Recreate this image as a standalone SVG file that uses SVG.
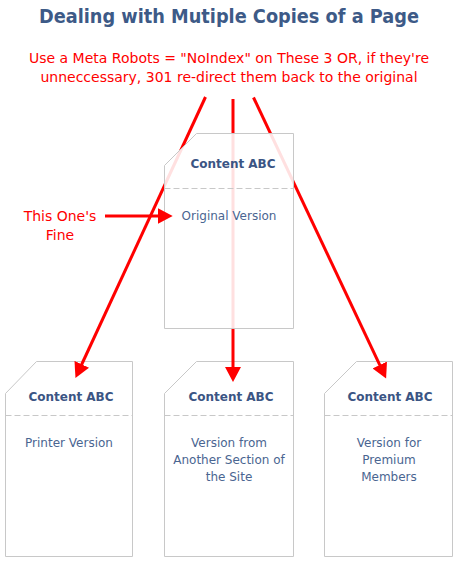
<svg xmlns="http://www.w3.org/2000/svg" width="460" height="583" viewBox="0 0 460 583">
<style>
text{font-family:"DejaVu Sans",Verdana,sans-serif;text-anchor:middle}
.title{font-size:19px;font-weight:bold;fill:#3d5a87}
.red{font-size:14px;fill:#ff0000}
.head{font-size:12px;font-weight:bold;fill:#3b5584}
.body{font-size:12px;fill:#4a6591}
.doc{fill:#ffffff;stroke:#c8c8c8;stroke-width:1}
.dash{stroke:#c8c8c8;stroke-width:1;stroke-dasharray:6,3;fill:none}
.ln{stroke:#ff0000;stroke-width:3;fill:none}
</style>
<defs>
<marker id="ah" markerUnits="userSpaceOnUse" markerWidth="16" markerHeight="16" refX="3" refY="8" orient="auto">
<path d="M0,0 L15,8 L0,16 z" fill="#ff0000"/>
</marker>
</defs>
<rect width="460" height="583" fill="#ffffff"/>
<text class="title" x="229" y="23" textLength="380" lengthAdjust="spacingAndGlyphs">Dealing with Mutiple Copies of a Page</text>
<text class="red" x="229" y="63">Use a Meta Robots = "NoIndex" on These 3 OR, if they're</text>
<text class="red" x="229" y="82">unneccessary, 301 re-direct them back to the original</text>

<g id="doc-printer">
<path class="doc" d="M36.5,361.5 H132.5 V556.5 H5.5 V393.5 Z"/>
<line class="dash" x1="5.5" y1="415.5" x2="132.5" y2="415.5"/>
<text class="head" x="71" y="401">Content ABC</text>
<text class="body" x="69" y="447">Printer Version</text>
</g>
<g id="doc-section">
<path class="doc" d="M196.5,361.5 H293.5 V556.5 H164.5 V393.5 Z"/>
<line class="dash" x1="164.5" y1="415.5" x2="293.5" y2="415.5"/>
<text class="head" x="231" y="401">Content ABC</text>
<text class="body" x="229" y="447">Version from</text>
<text class="body" x="229" y="464">Another Section of</text>
<text class="body" x="229" y="481">the Site</text>
</g>
<g id="doc-premium">
<path class="doc" d="M356.5,361.5 H452.5 V556.5 H324.5 V393.5 Z"/>
<line class="dash" x1="324.5" y1="415.5" x2="452.5" y2="415.5"/>
<text class="head" x="390" y="401">Content ABC</text>
<text class="body" x="389" y="447">Version for</text>
<text class="body" x="389" y="464">Premium</text>
<text class="body" x="389" y="481">Members</text>
</g>

<g id="connectors">
<line class="ln" x1="205.5" y1="97" x2="80.5" y2="367" marker-end="url(#ah)"/>
<line class="ln" x1="233" y1="99" x2="233" y2="370" marker-end="url(#ah)"/>
<line class="ln" x1="253.5" y1="97.5" x2="381" y2="367.7" marker-end="url(#ah)"/>
</g>

<g id="doc-original">
<path class="doc" style="fill-opacity:0.88" d="M196.5,133.5 H293.5 V328.5 H164.5 V165.5 Z"/>
<line class="dash" x1="164.5" y1="188.5" x2="293.5" y2="188.5"/>
<text class="head" x="233" y="168">Content ABC</text>
<text class="body" x="229" y="220">Original Version</text>
</g>

<g id="note">
<text class="red" x="60" y="221">This One's</text>
<text class="red" x="60" y="240">Fine</text>
<line class="ln" x1="105" y1="216" x2="160.7" y2="216" marker-end="url(#ah)"/>
</g>
</svg>
